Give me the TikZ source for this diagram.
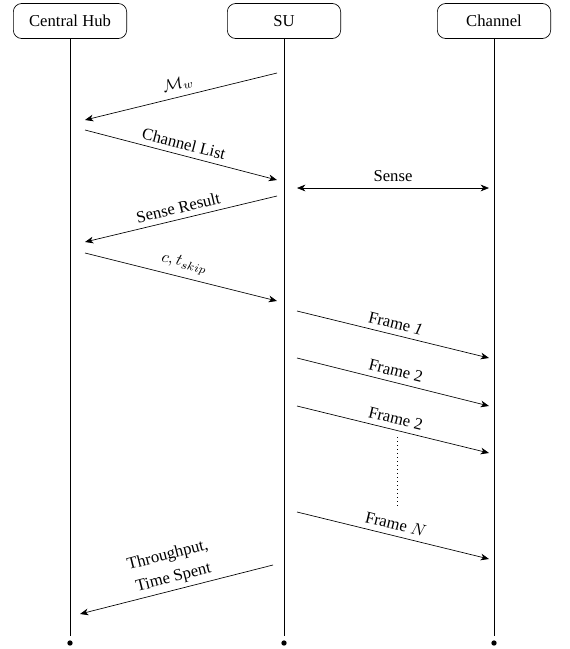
\documentclass[tikz,border=0pt]{standalone}
\usepackage{fontspec}
\setmainfont{Liberation Serif}
\usepackage{amsmath,amssymb}
\usetikzlibrary{arrows.meta}
\usetikzlibrary{positioning}
\tikzset{
entity/.style={draw, rounded corners=5pt, minimum width=68pt, minimum height=21pt},
msg/.style={-{Stealth[length=5pt,width=4pt,inset=1.5pt]}},
msgboth/.style={{Stealth[length=5pt,width=4pt,inset=1.5pt]}-{Stealth[length=5pt,width=4pt,inset=1.5pt]}},
lbl/.style={midway, above, sloped}
}

\begin{document}
\begin{tikzpicture}[x=0.6pt,y=-0.6pt]

                \useasboundingbox (0,0) rectangle (569,649);

                \node[entity] (hub) at (70,21) {Central Hub};
                \node[entity] (su) at (284,21) {SU};
                \node[entity] (ch) at (494,21) {Channel};

                %lifelines
                \foreach \e in {hub,su,ch}{
                    \coordinate (\e end) at (\e.south |- 0,636);
                    \coordinate (\e dot) at (\e.south |- 0,643);
                    \draw (\e.south) -- (\e end);
                    \fill (\e dot) circle (1.6pt);
                }

                \coordinate (mw s) at (277,73);  \coordinate (mw e) at (85,120);
                \coordinate (cl s) at (85,130);  \coordinate (cl e) at (277,180);
                \coordinate (se s) at (297,188); \coordinate (se e) at (489,188);
                \coordinate (sr s) at (277,196); \coordinate (sr e) at (85,242);
                \coordinate (ct s) at (85,253);  \coordinate (ct e) at (277,301);
                \coordinate (f1 s) at (297,311); \coordinate (f1 e) at (489,358);
                \coordinate (f2 s) at (297,358); \coordinate (f2 e) at (489,406);
                \coordinate (f3 s) at (297,406); \coordinate (f3 e) at (489,453);
                \coordinate (fn s) at (297,512); \coordinate (fn e) at (489,559);
                \coordinate (tp s) at (273,565); \coordinate (tp e) at (80,614);
                \coordinate (dots s) at (397,437); \coordinate (dots e) at (397,508);

                \draw[msg] (mw s) -- (mw e) node[lbl] {$\mathcal{M}_w$};
                \draw[msg] (cl s) -- (cl e) node[lbl] {Channel List};
                \draw[msgboth] (se s) -- (se e) node[lbl] {Sense};
                \draw[msg] (sr s) -- (sr e) node[lbl] {Sense Result};
                \draw[msg] (ct s) -- (ct e) node[lbl] {$c, t_{skip}$};
                \draw[msg] (f1 s) -- (f1 e) node[lbl] {Frame \textit{1}};
                \draw[msg] (f2 s) -- (f2 e) node[lbl] {Frame 2};
                \draw[msg] (f3 s) -- (f3 e) node[lbl] {Frame 2};
                \draw[dotted] (dots s) -- (dots e);
                \draw[msg] (fn s) -- (fn e) node[lbl] {Frame $N$};
                \draw[msg] (tp s) -- (tp e) node[midway, sloped, above=-1pt, align=center] {Throughput,\\[2pt]Time Spent};

\end{tikzpicture}
\end{document}
